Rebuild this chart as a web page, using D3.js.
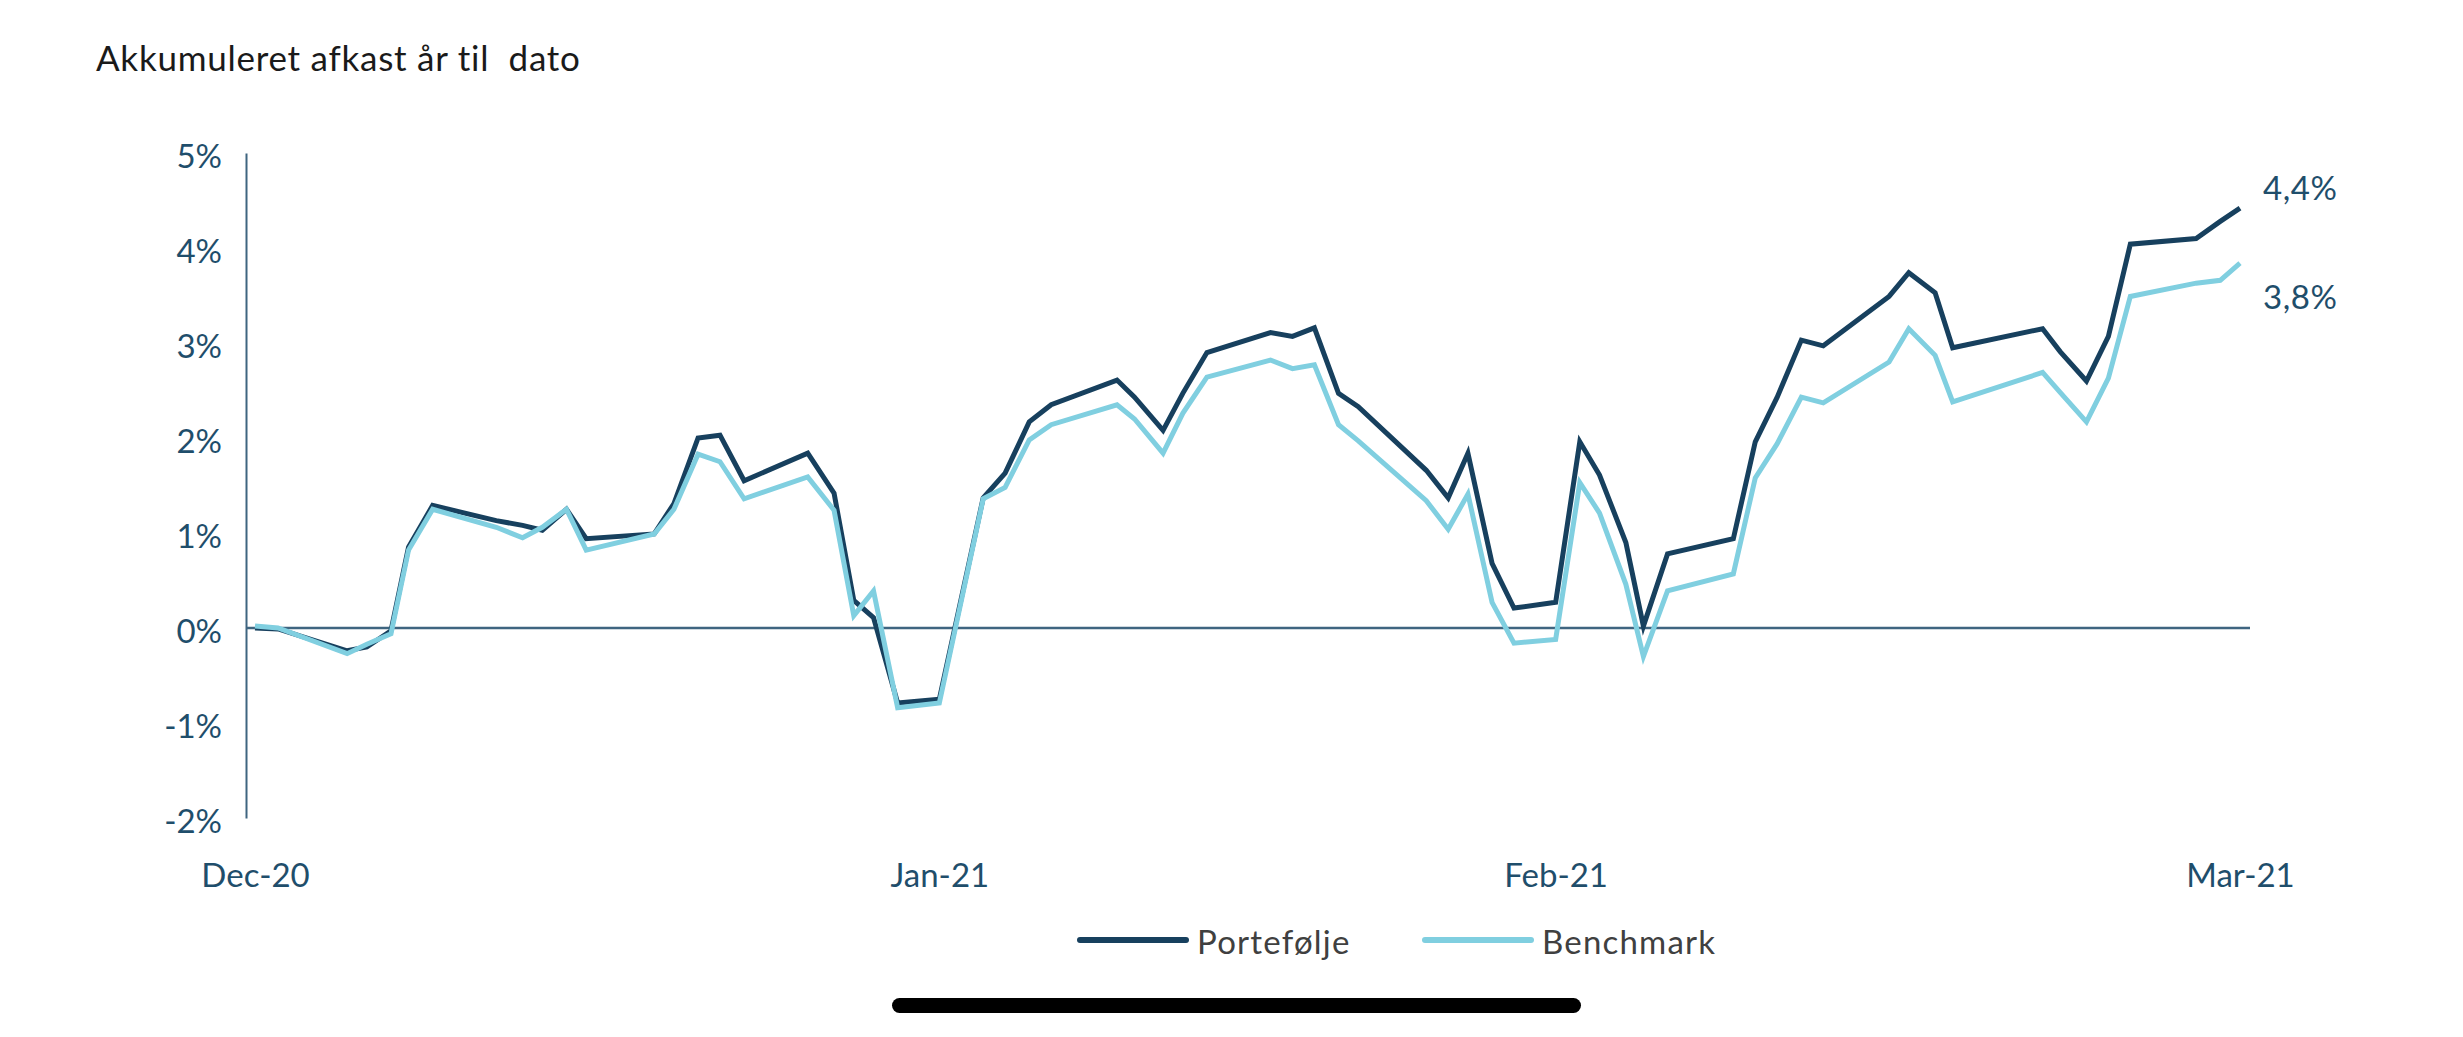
<!DOCTYPE html>
<html>
<head>
<meta charset="utf-8">
<script src="https://cdn.jsdelivr.net/npm/d3@7"></script>
<style>
  html, body { margin: 0; padding: 0; background: #fff; }
  svg { display: block; }
</style>
</head>
<body>
<div id="chart"></div>
<script>
// Layout constants
const CFG = {
  width: 2463,
  height: 1037,
  axisX: 246,        // y axis line
  plotRight: 2250,   // end of zero line
  firstX: 255,       // x of day 0
  lastX: 2240,       // x of last day
  yTop: 153,
  yBottom: 818,
  fontSize: 33,
  fontFamily: 'Lato, "Open Sans", Arial, sans-serif',
  dark: '#17405e',
  light: '#80cfe0',
  axisColor: '#3f6580',
  labelColor: '#1f4e6b',
};

// Data (x in days from start, values in %)
const days = [0, 1.05, 4.2, 5.1, 6.2, 7.0, 8.1, 11.0, 12.2, 13.1, 14.2, 15.1, 18.2, 19.1, 20.2, 21.2, 22.3,
  25.2, 26.4, 27.3, 28.2, 29.3, 31.2, 33.2, 34.2, 35.3, 36.3, 39.3, 40.1, 41.4, 42.3, 43.4, 46.3, 47.3,
  48.3, 49.4, 50.3, 53.4, 54.4, 55.3, 56.4, 57.4, 59.3, 60.4, 61.3, 62.5, 63.3, 64.4, 67.4, 68.4, 69.4,
  70.5, 71.5, 74.5, 75.4, 76.6, 77.4, 81.5, 82.3, 83.5, 84.5, 85.5, 88.5, 89.6, 90.5];

const portefolje = [0.00, -0.01, -0.24, -0.20, -0.03, 0.85, 1.29, 1.13, 1.08, 1.03, 1.25, 0.94, 0.99, 1.31,
  2.00, 2.03, 1.55, 1.84, 1.42, 0.29, 0.11, -0.79, -0.75, 1.37, 1.63, 2.17, 2.35, 2.61, 2.43, 2.08, 2.47,
  2.90, 3.11, 3.07, 3.16, 2.47, 2.33, 1.66, 1.37, 1.84, 0.68, 0.21, 0.27, 1.96, 1.61, 0.90, 0.02, 0.78,
  0.94, 1.96, 2.43, 3.03, 2.97, 3.49, 3.74, 3.53, 2.95, 3.15, 2.91, 2.60, 3.07, 4.04, 4.10, 4.28, 4.42];

const benchmark = [0.02, 0.00, -0.27, -0.17, -0.06, 0.82, 1.25, 1.06, 0.95, 1.06, 1.25, 0.82, 0.99, 1.25,
  1.83, 1.75, 1.36, 1.59, 1.24, 0.13, 0.39, -0.84, -0.79, 1.36, 1.48, 1.98, 2.14, 2.35, 2.20, 1.84, 2.26,
  2.64, 2.82, 2.73, 2.77, 2.14, 1.97, 1.34, 1.04, 1.41, 0.27, -0.16, -0.12, 1.53, 1.21, 0.46, -0.30, 0.39,
  0.57, 1.58, 1.94, 2.43, 2.37, 2.80, 3.15, 2.87, 2.38, 2.69, 2.48, 2.17, 2.63, 3.49, 3.63, 3.66, 3.84];

const yTicks = [-2, -1, 0, 1, 2, 3, 4, 5];
const xTickDays = [0, 31.2, 59.3, 90.5];
const xTickLabels = ['Dec-20', 'Jan-21', 'Feb-21', 'Mar-21'];
const seriesNames = ['Portefølje', 'Benchmark'];
const endLabels = ['4,4%', '3,8%'];

const svg = d3.select('#chart')
  .append('svg')
  .attr('width', CFG.width)
  .attr('height', CFG.height)
  .attr('viewBox', `0 0 ${CFG.width} ${CFG.height}`)
  .attr('font-family', CFG.fontFamily);

svg.append('rect')
  .attr('width', CFG.width).attr('height', CFG.height)
  .attr('fill', '#fff');

const x = d3.scaleLinear().domain([0, 90.5]).range([CFG.firstX, CFG.lastX]);
const y = d3.scaleLinear().domain([-2, 5]).range([CFG.yBottom, CFG.yTop]);

// Title
svg.append('text')
  .attr('x', 96).attr('y', 71)
  .attr('font-size', 35)
  .attr('letter-spacing', 0.75)
  .attr('fill', '#1a1a1a')
  .style('white-space', 'pre')
  .text('Akkumuleret afkast år til  dato');

// Y axis: line + labels
const yAxis = d3.axisLeft(y)
  .tickValues(yTicks)
  .tickSize(0)
  .tickPadding(24)
  .tickFormat(d => `${d}%`);

const yG = svg.append('g')
  .attr('transform', `translate(${CFG.axisX},0)`)
  .call(yAxis);
yG.select('.domain')
  .attr('stroke', CFG.axisColor)
  .attr('stroke-width', 2);
yG.selectAll('text')
  .attr('font-size', CFG.fontSize)
  .attr('font-family', CFG.fontFamily)
  .attr('fill', CFG.labelColor)
  .attr('dy', '0.45em');

// Zero line
svg.append('line')
  .attr('x1', CFG.axisX).attr('x2', CFG.plotRight)
  .attr('y1', y(0)).attr('y2', y(0))
  .attr('stroke', CFG.axisColor)
  .attr('stroke-width', 2.5);

// X axis labels (no line, no ticks)
const xAxis = d3.axisBottom(x)
  .tickValues(xTickDays)
  .tickSize(0)
  .tickPadding(0)
  .tickFormat((d, i) => xTickLabels[i]);

const xG = svg.append('g')
  .attr('transform', `translate(0,${CFG.yBottom})`)
  .call(xAxis);
xG.select('.domain').remove();
xG.selectAll('text')
  .attr('font-size', CFG.fontSize)
  .attr('font-family', CFG.fontFamily)
  .attr('fill', CFG.labelColor)
  .attr('dy', null)
  .attr('y', 69);

// Lines
const line = d3.line()
  .x((d, i) => x(days[i]))
  .y(d => y(d))
  .curve(d3.curveLinear);

svg.append('path')
  .datum(portefolje)
  .attr('d', line)
  .attr('fill', 'none')
  .attr('stroke', CFG.dark)
  .attr('stroke-width', 5)
  .attr('stroke-linejoin', 'miter');

svg.append('path')
  .datum(benchmark)
  .attr('d', line)
  .attr('fill', 'none')
  .attr('stroke', CFG.light)
  .attr('stroke-width', 5)
  .attr('stroke-linejoin', 'miter');

// End value labels (benchmark label sits a bit below its line end)
const endLabelOffsets = [-8, 46];
[portefolje, benchmark].forEach((vals, k) => {
  const last = vals[vals.length - 1];
  svg.append('text')
    .attr('x', 2263)
    .attr('y', y(last) + endLabelOffsets[k])
    .attr('font-size', CFG.fontSize)
    .attr('letter-spacing', 0.6)
    .attr('fill', CFG.labelColor)
    .text(endLabels[k]);
});

// Legend
const legendItems = [
  { name: seriesNames[0], color: CFG.dark, x: 1080 },
  { name: seriesNames[1], color: CFG.light, x: 1425 },
];
legendItems.forEach(item => {
  svg.append('line')
    .attr('x1', item.x).attr('x2', item.x + 106)
    .attr('y1', 940).attr('y2', 940)
    .attr('stroke', item.color)
    .attr('stroke-width', 6)
    .attr('stroke-linecap', 'round');
  svg.append('text')
    .attr('x', item.x + 117).attr('y', 954)
    .attr('font-size', CFG.fontSize)
    .attr('letter-spacing', 1.2)
    .attr('fill', '#404040')
    .text(item.name);
});

// Screenshot home indicator bar
svg.append('rect')
  .attr('x', 892).attr('y', 998)
  .attr('width', 689).attr('height', 15)
  .attr('rx', 7.5)
  .attr('fill', '#000');
</script>
</body>
</html>
